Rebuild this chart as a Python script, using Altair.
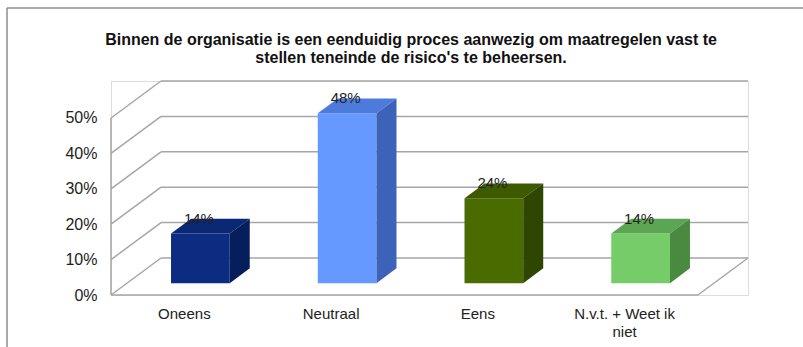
import altair as alt
import pandas as pd

categories = ["Oneens", "Neutraal", "Eens", "N.v.t. + Weet ik\nniet"]
values = [0.14, 0.48, 0.24, 0.14]
value_labels = ["14%", "48%", "24%", "14%"]
front_colors = ["#0b2c80", "#6699ff", "#4a6b00", "#77cc6a"]
top_colors = ["#0a2873", "#4c7bdc", "#3e5a00", "#5ca552"]
side_colors = ["#061f5c", "#3d63b8", "#2f4600", "#4a8a40"]
grid_values = [0.0, 0.1, 0.2, 0.3, 0.4, 0.5]
title_text = ("Binnen de organisatie is een eenduidig proces aanwezig om maatregelen vast te\n"
              "stellen teneinde de risico's te beheersen.")

# 3D projection parameters (depth offset in data units)
DX = 0.341   # horizontal shift of the back wall (category units)
DY = 0.1045  # vertical shift of the back wall (fraction units)
D0, D1 = 0.32, 0.72  # bar front / back depth
HW = 0.2  # half bar width (category units)
X0, X1 = -0.5, 3.5

xs = alt.Scale(domain=[X0, X1 + DX], nice=False, zero=False)
ys = alt.Scale(domain=[0, 0.5 + DY], nice=False, zero=False)

W, H = 637, 214
GRID = "#a6a6a6"

# frame lines of the 3D box
rules = []
for v in grid_values:
    rules.append(dict(x=X0 + DX, y=v + DY, x2=X1 + DX, y2=v + DY))
    rules.append(dict(x=X0, y=v, x2=X0 + DX, y2=v + DY))
rules.append(dict(x=X0, y=0, x2=X0, y2=0.5))
rules.append(dict(x=X0, y=0, x2=X1, y2=0))
rules.append(dict(x=X1, y=0, x2=X1 + DX, y2=DY))
rules_df = pd.DataFrame(rules)

grid = alt.Chart(rules_df).mark_rule(color=GRID, strokeWidth=1.5).encode(
    x=alt.X("x:Q", scale=xs, axis=None),
    y=alt.Y("y:Q", scale=ys, axis=alt.Axis(values=grid_values, format=".0%", domain=False, ticks=False,
                                              grid=False, labelFontSize=16, labelColor="#222222",
                                              labelFont="Liberation Sans", labelPadding=14, title=None)),
    x2="x2:Q", y2="y2:Q",
)

front_rows, top_rows, side_rows, lab_rows, cat_rows = [], [], [], [], []
for i, (c, v) in enumerate(zip(categories, values)):
    k = str(i)
    front_rows.append(dict(k=k, x=i - HW + D0 * DX, x2=i + HW + D0 * DX, y=D0 * DY, y2=v + D0 * DY,
                           col=front_colors[i]))
    top_rows.append(dict(k=k, y=v + D0 * DY, x=i - HW + D0 * DX, x2=i + HW + D0 * DX, col=top_colors[i]))
    top_rows.append(dict(k=k, y=v + D1 * DY, x=i - HW + D1 * DX, x2=i + HW + D1 * DX, col=top_colors[i]))
    side_rows.append(dict(k=k, x=i + HW + D0 * DX, y=D0 * DY, y2=v + D0 * DY, col=side_colors[i]))
    side_rows.append(dict(k=k, x=i + HW + D1 * DX, y=D1 * DY, y2=v + D1 * DY, col=side_colors[i]))
    lab_rows.append(dict(x=i + D0 * DX - 0.01, y=v + D1 * DY, t=value_labels[i]))
    cat_rows.append(dict(x=i, y=0, t=c))

front = alt.Chart(pd.DataFrame(front_rows)).mark_rect().encode(
    x=alt.X("x:Q", scale=xs), x2="x2:Q", y=alt.Y("y:Q", scale=ys), y2="y2:Q",
    color=alt.Color("col:N", scale=None),
)
top = alt.Chart(pd.DataFrame(top_rows)).mark_area(orient="horizontal").encode(
    y=alt.Y("y:Q", scale=ys), x=alt.X("x:Q", scale=xs), x2="x2:Q",
    detail="k:N", color=alt.Color("col:N", scale=None),
)
side = alt.Chart(pd.DataFrame(side_rows)).mark_area().encode(
    x=alt.X("x:Q", scale=xs), y=alt.Y("y:Q", scale=ys), y2="y2:Q",
    detail="k:N", color=alt.Color("col:N", scale=None),
)
labels = alt.Chart(pd.DataFrame(lab_rows)).mark_text(
    font="Liberation Sans", fontSize=15, color="#222222", baseline="middle", align="center"
).encode(x=alt.X("x:Q", scale=xs), y=alt.Y("y:Q", scale=ys), text="t:N")

cats = alt.Chart(pd.DataFrame(cat_rows)).mark_text(
    font="Liberation Sans", fontSize=15, color="#222222", baseline="top", align="center",
    lineBreak="\n", dy=12, lineHeight=18
).encode(x=alt.X("x:Q", scale=xs), y=alt.Y("y:Q", scale=ys), text="t:N")

frame_df = pd.DataFrame({"t": [title_text]})
frame_top = alt.Chart(frame_df).mark_rule(color="#8c8c8c", strokeWidth=1.5).encode(
    x=alt.value(-104), x2=alt.value(700), y=alt.value(-73), y2=alt.value(-73))
frame_left = alt.Chart(frame_df).mark_rule(color="#8c8c8c", strokeWidth=1.5).encode(
    x=alt.value(-104), x2=alt.value(-104), y=alt.value(-73), y2=alt.value(300))
title = alt.Chart(frame_df).mark_text(
    font="Liberation Sans", fontSize=16, fontWeight="bold", color="#111111", align="center",
    baseline="middle", lineBreak="\n", lineHeight=18
).encode(x=alt.value(300), y=alt.value(-41), text="t:N")

chart = alt.layer(grid, front, top, side, labels, cats, frame_top, frame_left, title).properties(
    width=W, height=H,
    padding={"left": 111, "top": 81, "right": 55, "bottom": 52},
    autosize=alt.AutoSizeParams(type="none"),
).configure_view(stroke=None).configure(background="white")

chart.save("out.html", embed_options={"renderer": "svg", "actions": False})
